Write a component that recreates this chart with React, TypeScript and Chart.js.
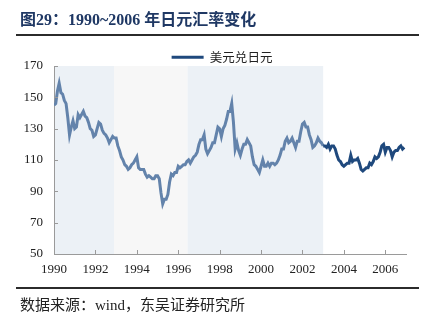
import { useEffect, useRef } from 'react';
import { Chart, registerables } from 'chart.js';

Chart.register(...registerables);

// Monthly USD/JPY, Jan..Dec of each year
const startYear = 1990;
const r1990 = [145, 146, 154, 159, 153, 152, 148, 146, 137, 126, 131, 135];
const r1991 = [130, 131, 139, 137, 139, 141, 138, 137, 134, 130, 129, 125];
const r1992 = [126, 130, 134, 133, 129, 127, 126, 124, 121, 123, 125, 124];
const r1993 = [124, 119, 116, 112, 110, 107, 106, 104, 105, 107, 108, 110];
const r1994 = [112, 105, 104, 104, 104, 101, 99, 100, 99, 98, 98, 100];
const r1995 = [100, 98, 89, 82, 85, 85, 88, 96, 101, 100, 102, 102];
const r1996 = [106, 105, 106, 107, 107, 109, 110, 108, 110, 112, 113, 115];
const r1997 = [120, 123, 123, 126, 117, 114, 116, 118, 121, 121, 126, 131];
const r1998 = [130, 125, 130, 132, 136, 141, 141, 146, 134, 117, 121, 116];
const r1999 = [113, 117, 120, 120, 123, 121, 119, 112, 107, 106, 104, 102];
const r2000 = [106, 110, 106, 106, 108, 106, 108, 108, 107, 108, 110, 113];
const r2001 = [117, 117, 122, 124, 121, 122, 124, 121, 118, 122, 122, 128];
const r2002 = [133, 134, 131, 131, 126, 123, 118, 119, 121, 124, 122, 121];
const r2003 = [119, 119, 118, 120, 117, 119, 119, 117, 113, 110, 109, 107];
const r2004 = [106, 107, 108, 108, 113, 109, 110, 110, 111, 108, 104, 103];
const r2005 = [104, 105, 105, 108, 107, 109, 112, 111, 112, 115, 119, 120];
const r2006 = [115, 118, 118, 116, 112, 115, 116, 116, 118, 119, 117, 118];
const yearlyRates = [r1990, r1991, r1992, r1993, r1994, r1995, r1996, r1997, r1998,
  r1999, r2000, r2001, r2002, r2003, r2004, r2005, r2006];

const seriesLabel = '美元兑日元';
const xTickYears = [1990, 1992, 1994, 1996, 1998, 2000, 2002, 2004, 2006];
const yTickValues = [50, 70, 90, 110, 130, 150, 170];
const xMin = 1990;
const xMax = 2007;
const splitYear = 2003;
const shadeFrom = [1990, 1992.9, 1996.45];
const shadeTo = [1992.9, 1996.45, 2003];

const titleText = '图29：1990~2006 年日元汇率变化';
const sourceText = '数据来源：wind，东吴证券研究所';

const LIGHT = '#6383ab';
const DARK = '#1f497d';
const SHADE = ['#ecf1f6', '#f7f7f7', '#ecf1f6'];
const AXIS = '#9a9a9a';

export default function App() {
  const ref = useRef<HTMLCanvasElement | null>(null);

  useEffect(() => {
    const canvas = ref.current;
    if (!canvas) return;
    const points = yearlyRates.flatMap((arr, yi) =>
      arr.map((v, m) => ({ x: startYear + yi + m / 12, y: v })));

    const shadePlugin = {
      id: 'shade',
      afterLayout(chart: any) {
        // centre the legend over the plot's visual centre, as in the reference
        if (chart.legend) {
          chart.legend.left += 12;
          chart.legend.right += 12;
        }
      },
      beforeDraw(chart: any) {
        const { ctx, scales } = chart;
        const xs = scales.x, ys = scales.y;
        const top = ys.getPixelForValue(ys.max);
        const bottom = ys.getPixelForValue(ys.min);
        ctx.save();
        shadeFrom.forEach((f, i) => {
          const x0 = xs.getPixelForValue(f);
          const x1 = xs.getPixelForValue(shadeTo[i]);
          ctx.fillStyle = SHADE[i];
          ctx.fillRect(x0, top, x1 - x0, bottom - top);
        });
        ctx.restore();
      },
    };

    const innerTicks = {
      id: 'innerTicks',
      afterDatasetsDraw(chart: any) {
        const { ctx, scales, chartArea } = chart;
        ctx.save();
        ctx.strokeStyle = AXIS;
        ctx.lineWidth = 1;
        ctx.beginPath();
        xTickYears.forEach((v) => {
          const x = Math.round(scales.x.getPixelForValue(v)) + 0.5;
          ctx.moveTo(x, chartArea.bottom);
          ctx.lineTo(x, chartArea.bottom - 4);
        });
        yTickValues.forEach((v) => {
          const y = Math.round(scales.y.getPixelForValue(v)) + 0.5;
          ctx.moveTo(chartArea.left, y);
          ctx.lineTo(chartArea.left + 4, y);
        });
        ctx.stroke();
        ctx.restore();
      },
    };

    const tickFont = { family: '"Liberation Serif", "Times New Roman", serif', size: 13 };

    const chart = new Chart(canvas, {
      type: 'line',
      data: {
        datasets: [
          {
            label: seriesLabel,
            data: points,
            borderColor: DARK,
            backgroundColor: DARK,
            borderWidth: 3,
            pointRadius: 0,
            tension: 0,
            segment: {
              borderColor: (c: any) => (c.p0.parsed.x < splitYear ? LIGHT : DARK),
            },
          },
        ],
      },
      options: {
        animation: false,
        responsive: false,
        devicePixelRatio: 1,
        layout: { padding: { top: 48, left: 14, right: 32, bottom: 42 } },
        plugins: {
          tooltip: { enabled: false },
          legend: {
            display: true,
            position: 'top',
            align: 'center',
            maxHeight: 18,
            labels: {
              boxWidth: 32,
              boxHeight: 3,
              padding: 3,
              color: '#222',
              font: { family: '"Noto Sans CJK SC", sans-serif', size: 12.5 },
              generateLabels: (ch: any) =>
                Chart.defaults.plugins.legend.labels.generateLabels(ch).map((l: any) => ({
                  ...l, lineWidth: 0, fillStyle: DARK, strokeStyle: DARK,
                })),
            },
          },
        },
        scales: {
          x: {
            type: 'linear',
            min: xMin,
            max: xMax,
            afterBuildTicks: (s: any) => { s.ticks = xTickYears.map((v) => ({ value: v })); },
            afterFit: (s: any) => { s.height = 30; },
            grid: { display: true, drawOnChartArea: false, drawTicks: false },
            border: { display: true, color: AXIS, width: 1 },
            ticks: {
              padding: 8,
              color: '#222',
              font: tickFont,
              maxRotation: 0,
              autoSkip: false,
              callback: (v: any) => String(v),
            },
          },
          y: {
            type: 'linear',
            min: 50,
            max: 170,
            afterBuildTicks: (s: any) => { s.ticks = yTickValues.map((v) => ({ value: v })); },
            afterFit: (s: any) => { s.width = 40; },
            grid: { display: true, drawOnChartArea: false, drawTicks: false },
            border: { display: true, color: AXIS, width: 1 },
            ticks: { padding: 11, color: '#222', font: tickFont },
          },
        },
      },
      plugins: [shadePlugin, innerTicks],
    } as any);

    return () => chart.destroy();
  }, []);

  return (
    <div style={{ position: 'absolute', left: 0, top: 0, width: 438, height: 326, background: '#fff', overflow: 'hidden' }}>
      <canvas ref={ref} width={438} height={326} style={{ position: 'absolute', left: 0, top: 0, width: 438, height: 326 }} />
      <div style={{
        position: 'absolute', left: 20, top: 12, lineHeight: '16px', fontSize: 16, fontWeight: 'bold',
        color: '#1f3864', whiteSpace: 'nowrap',
        fontFamily: '"Liberation Serif", "Noto Sans CJK SC", serif',
      }}>{titleText}</div>
      <div style={{ position: 'absolute', left: 16, top: 34, width: 403, height: 2, background: '#2b2b2b' }} />
      <div style={{ position: 'absolute', left: 16, top: 287, width: 403, height: 2, background: '#2b2b2b' }} />
      <div style={{
        position: 'absolute', left: 20, top: 297, lineHeight: '16px', fontSize: 15, color: '#222',
        whiteSpace: 'nowrap', fontFamily: '"Liberation Serif", "Noto Sans CJK SC", serif',
      }}>{sourceText}</div>
    </div>
  );
}
